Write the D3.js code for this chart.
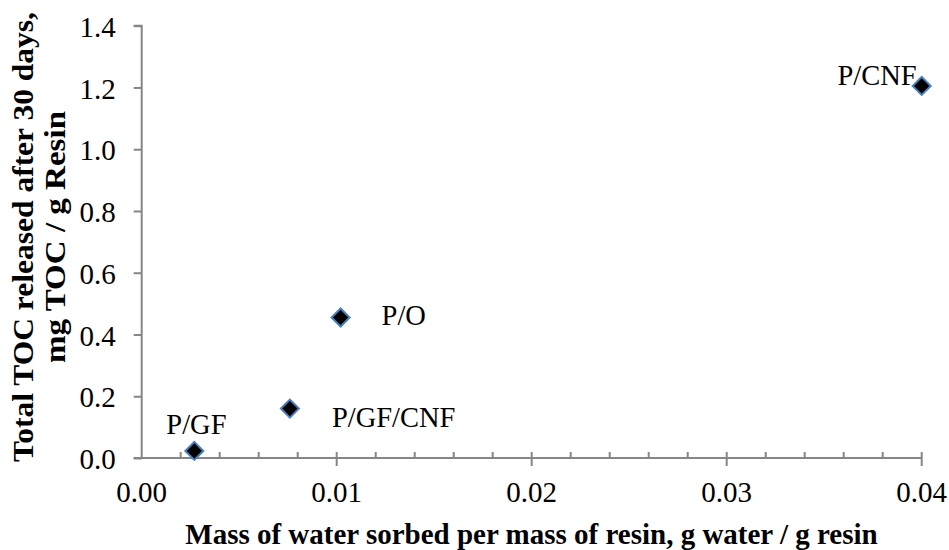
<!DOCTYPE html>
<html>
<head>
<meta charset="utf-8">
<script src="https://cdn.jsdelivr.net/npm/d3@7"></script>
<style>
  html, body { margin: 0; padding: 0; background: #fff; }
  svg { display: block; font-family: "Liberation Serif", "Times New Roman", serif; }
</style>
</head>
<body>
<svg id="chart" width="949" height="550"></svg>
<script>
// Resin samples: water uptake vs. TOC released
const samples = ["P/GF", "P/GF/CNF", "P/O", "P/CNF"];
const waterSorbed = [0.0027, 0.0076, 0.0102, 0.0400];
const tocReleased = [0.023, 0.160, 0.455, 1.205];
const xTickValues = [0.00, 0.01, 0.02, 0.03, 0.04];
const yTickValues = [0.0, 0.2, 0.4, 0.6, 0.8, 1.0, 1.2, 1.4];

const svg = d3.select("#chart");
const plotLeft = 141.7, plotRight = 921.7, plotTop = 25.7, plotBottom = 458;
const axisColor = "#868686";
const serif = "'Liberation Serif', 'Times New Roman', serif";

const x = d3.scaleLinear().domain([0, 0.04]).range([plotLeft, plotRight]);
const y = d3.scaleLinear().domain([0, 1.4]).range([plotBottom, plotTop]);

// Y axis
const yAxis = svg.append("g")
  .attr("transform", `translate(${plotLeft},0)`)
  .call(d3.axisLeft(y).tickValues(yTickValues).tickFormat(d3.format(".1f")).tickSize(8).tickPadding(18));
yAxis.attr("font-family", serif).attr("font-size", 29);
yAxis.select(".domain").attr("stroke", axisColor).attr("stroke-width", 2).attr("d", `M-8,${plotTop}H0V${plotBottom}`);
yAxis.selectAll(".tick line").attr("stroke", axisColor).attr("stroke-width", 2);
yAxis.selectAll(".tick text").attr("font-family", serif).attr("font-size", 29)
  .attr("fill", "#000").attr("dy", "0.37em");

// X axis: minor ticks pointing up, major ticks crossing the line
const xg = svg.append("g").attr("transform", `translate(0,${plotBottom})`)
  .attr("font-family", serif);
xg.append("line").attr("x1", plotLeft - 8).attr("x2", plotRight).attr("y1", 0).attr("y2", 0)
  .attr("stroke", axisColor).attr("stroke-width", 2);
const minor = d3.range(1, 20).map(i => i * 0.002).filter(v => Math.round(v * 1000) % 10 !== 0);
xg.selectAll(".minor").data(minor).join("line")
  .attr("x1", d => x(d)).attr("x2", d => x(d)).attr("y1", -6).attr("y2", 0)
  .attr("stroke", axisColor).attr("stroke-width", 2);
xg.selectAll(".major").data(xTickValues.slice(1)).join("line")
  .attr("x1", d => x(d)).attr("x2", d => x(d)).attr("y1", -6).attr("y2", 8)
  .attr("stroke", axisColor).attr("stroke-width", 2);
xg.selectAll(".xlab").data(xTickValues).join("text")
  .attr("x", d => x(d)).attr("y", 44).attr("text-anchor", "middle")
  .attr("font-size", 29).attr("fill", "#000").text(d => d3.format(".2f")(d));

// Axis titles
svg.append("text").attr("x", 531.5).attr("y", 544)
  .attr("text-anchor", "middle").attr("font-size", 29).attr("font-weight", "bold")
  .text("Mass of water sorbed per mass of resin, g water / g resin");

const yTitle = svg.append("g").attr("font-size", 29).attr("font-weight", "bold").attr("text-anchor", "middle");
yTitle.append("text").attr("transform", "translate(33,237) rotate(-90)")
  .attr("textLength", 450).attr("lengthAdjust", "spacingAndGlyphs")
  .text("Total TOC released after 30 days,");
yTitle.append("text").attr("transform", "translate(65,237) rotate(-90)")
  .attr("textLength", 252).attr("lengthAdjust", "spacingAndGlyphs")
  .text("mg TOC / g Resin");

const pts = samples.map((s, i) => ({ name: s, wx: waterSorbed[i], toc: tocReleased[i] }));

// Point labels
const labelPos = {
  "P/GF": { dx: -28, dy: -17, anchor: "start" },
  "P/GF/CNF": { dx: 42, dy: 18, anchor: "start" },
  "P/O": { dx: 41, dy: 7, anchor: "start" },
  "P/CNF": { dx: -5, dy: -1, anchor: "end" }
};
svg.selectAll(".lab").data(pts).join("text")
  .attr("x", d => x(d.wx) + labelPos[d.name].dx)
  .attr("y", d => y(d.toc) + labelPos[d.name].dy)
  .attr("text-anchor", d => labelPos[d.name].anchor)
  .attr("font-size", 28.5).attr("fill", "#000").text(d => d.name);

// Diamond markers
svg.selectAll(".pt").data(pts).join("path")
  .attr("d", d3.symbol().type(d3.symbolSquare).size(162))
  .attr("transform", d => `translate(${x(d.wx)},${y(d.toc)}) rotate(45)`)
  .attr("fill", "#000").attr("stroke", "#4a7ebb").attr("stroke-width", 2);
</script>
</body>
</html>
